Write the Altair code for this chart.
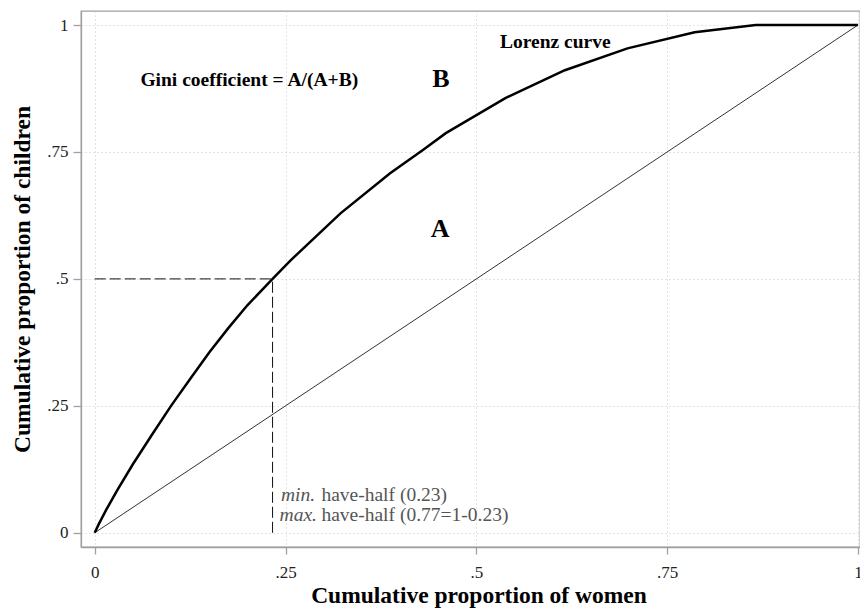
import altair as alt
import pandas as pd

# ---- data ----
lorenz_x = [0, 0.005, 0.015, 0.03, 0.05, 0.075, 0.10, 0.125, 0.15, 0.175, 0.20, 0.233,
            0.257, 0.322, 0.387, 0.43, 0.46, 0.538, 0.616, 0.698, 0.786, 0.866, 1.0]
lorenz_y = [0, 0.016, 0.045, 0.085, 0.135, 0.193, 0.25, 0.303, 0.355, 0.403, 0.448, 0.5,
            0.537, 0.629, 0.708, 0.754, 0.787, 0.856, 0.911, 0.954, 0.9856, 1.0, 1.0]
equality_x = [0, 1]
equality_y = [0, 1]
half_share = 0.5
min_have_half = 0.233

tick_values = [0, 0.25, 0.5, 0.75, 1]
tick_labels = ["0", ".25", ".5", ".75", "1"]
x_title = "Cumulative proportion of women"
y_title = "Cumulative proportion of children"

# annotations (data coordinates)
bold_labels = ["Gini coefficient = A/(A+B)", "Lorenz curve"]
bold_x = [0.2025, 0.6034]
bold_y = [0.8917, 0.9665]
area_labels = ["B", "A"]
area_x = [0.4537, 0.4525]
area_y = [0.8935, 0.5978]
note_italic = ["min.", "max."]
note_text = ["have-half (0.23)", "have-half (0.77=1-0.23)"]
note_italic_x = [0.244, 0.2422]
note_text_x = [0.297, 0.297]
note_y = [0.0742, 0.035]

# ---- build ----
label_expr = ""
for v, l in zip(tick_values, tick_labels):
    label_expr += f"datum.value == {v} ? '{l}' : "
label_expr += "''"

SERIF = "Liberation Serif"
xs = alt.Scale(domain=[-0.01795, 1.00262], nice=False, zero=False)
ys = alt.Scale(domain=[-0.028, 1.0276], nice=False, zero=False)

x_axis = alt.Axis(values=tick_values, labelExpr=label_expr, title=x_title,
                  tickSize=7, labelPadding=10, labelFlush=False, labelOverlap=False,
                  titleX=397.5, titleY=55, titleBaseline="alphabetic")
y_axis = alt.Axis(values=tick_values, labelExpr=label_expr, title=y_title,
                  tickSize=8, labelPadding=5, labelFlush=False, labelOverlap=False,
                  titleX=-51.5, titleBaseline="alphabetic")

lorenz_df = pd.DataFrame({"x": lorenz_x, "y": lorenz_y, "o": range(len(lorenz_x))})
eq_df = pd.DataFrame({"x": equality_x, "y": equality_y})
hdash_df = pd.DataFrame({"x": [0, min_have_half], "y": [half_share, half_share]})
vdash_df = pd.DataFrame({"x": [min_have_half, min_have_half], "y": [0, half_share]})

X = alt.X("x:Q", scale=xs, axis=x_axis)
Y = alt.Y("y:Q", scale=ys, axis=y_axis)

equality = alt.Chart(eq_df).mark_line(color="#333333", strokeWidth=1).encode(x=X, y=Y)
lorenz = alt.Chart(lorenz_df).mark_line(color="black", strokeWidth=2.5).encode(
    x=X, y=Y, order="o:Q")
hdash = alt.Chart(hdash_df).mark_line(color="#111111", strokeWidth=1, strokeDash=[11, 4]).encode(x=X, y=Y)
vdash = alt.Chart(vdash_df).mark_line(color="#111111", strokeWidth=1, strokeDash=[11, 4]).encode(x=X, y=Y)

bold_df = pd.DataFrame({"x": bold_x, "y": bold_y, "t": bold_labels})
bold_text = alt.Chart(bold_df).mark_text(font=SERIF, fontWeight="bold", fontSize=19.5,
                                         align="center", baseline="middle", color="black").encode(
    x=X, y=Y, text="t:N")
area_df = pd.DataFrame({"x": area_x, "y": area_y, "t": area_labels})
area_text = alt.Chart(area_df).mark_text(font=SERIF, fontWeight="bold", fontSize=26,
                                         align="center", baseline="middle", color="black").encode(
    x=X, y=Y, text="t:N")
ital_df = pd.DataFrame({"x": note_italic_x, "y": note_y, "t": note_italic})
ital_text = alt.Chart(ital_df).mark_text(font=SERIF, fontStyle="italic", fontSize=19.5,
                                         align="left", baseline="middle", color="#555555").encode(
    x=X, y=Y, text="t:N")
note_df = pd.DataFrame({"x": note_text_x, "y": note_y, "t": note_text})
note_txt = alt.Chart(note_df).mark_text(font=SERIF, fontSize=19.5,
                                        align="left", baseline="middle", color="#555555").encode(
    x=X, y=Y, text="t:N")

chart = alt.layer(equality, hdash, vdash, lorenz, bold_text, area_text, ital_text, note_txt).properties(
    width=779, height=536,
    autosize=alt.AutoSizeParams(type="none"),
    padding={"left": 73, "top": 3, "right": 0, "bottom": 66},
    background="white",
).configure_view(
    stroke="#a0a0a0", strokeWidth=1.3
).configure_axis(
    labelFont=SERIF, labelFontSize=17, labelColor="#222222",
    titleFont=SERIF, titleFontSize=23.5, titleFontWeight="bold", titleColor="black",
    domainColor="#a0a0a0", domainWidth=1.3, tickColor="#a0a0a0", tickWidth=1.3,
    grid=True, gridColor="#c8c8c8", gridDash=[1, 3], gridWidth=1,
)

chart.save("out.html", embed_options={"renderer": "svg", "actions": False})
